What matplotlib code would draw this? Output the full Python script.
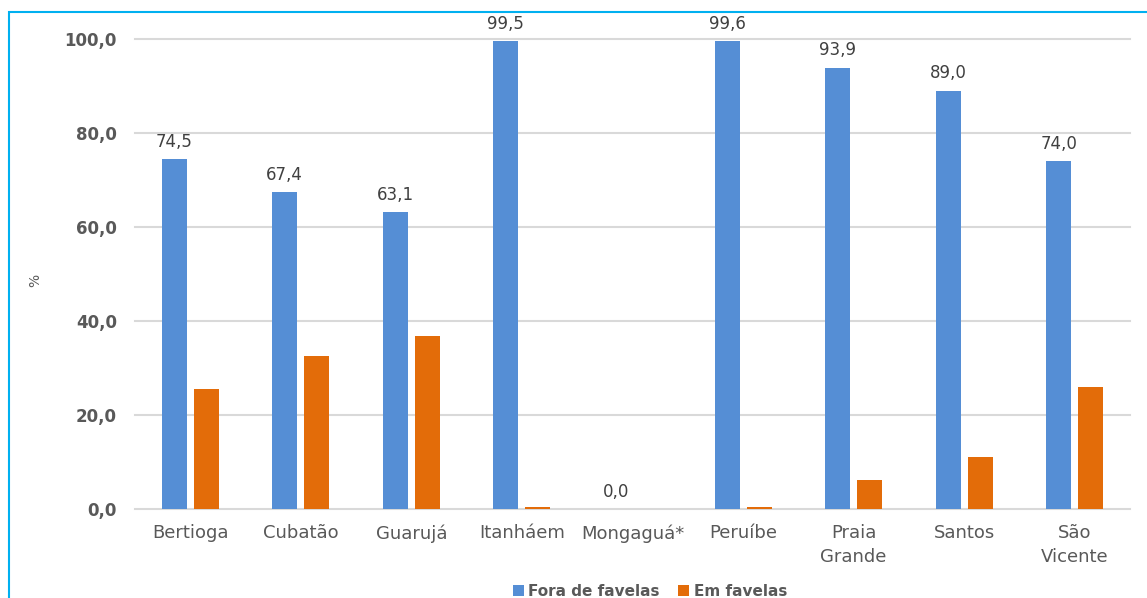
import matplotlib.pyplot as plt
import numpy as np
from matplotlib.patches import Rectangle

# dados
municipios = ["Bertioga", "Cubatão", "Guarujá", "Itanháem", "Mongaguá*",
              "Peruíbe", "Praia\nGrande", "Santos", "São\nVicente"]
fora_favelas = [74.5, 67.4, 63.1, 99.5, 0.0, 99.6, 93.9, 89.0, 74.0]
em_favelas = [25.5, 32.6, 36.9, 0.5, 0.0, 0.4, 6.1, 11.0, 26.0]

cor_fora = "#558ED5"
cor_em = "#E36C09"
cinza = "#595959"

plt.rcParams["font.family"] = ["DejaVu Sans"]

fig = plt.figure(figsize=(11.47, 5.98), dpi=100)
ax = fig.add_axes([0.1177, 0.1488, 0.8675, 0.786])

x = np.arange(len(municipios))
largura = 0.226
desloc = 0.145

b1 = ax.bar(x - desloc, fora_favelas, largura, color=cor_fora,
            label="Fora de favelas", zorder=3)
ax.bar(x + desloc, em_favelas, largura, color=cor_em,
       label="Em favelas", zorder=3)

for rect, v in zip(b1, fora_favelas):
    ax.annotate(f"{v:.1f}".replace(".", ","),
                (rect.get_x() + rect.get_width() / 2, v),
                xytext=(0, 6), textcoords="offset points",
                ha="center", va="bottom", fontsize=12, color="#404040",
                annotation_clip=False)

ax.set_xlim(-0.5, len(municipios) - 0.5)
ax.set_ylim(0, 100)
ax.set_yticks(np.arange(0, 101, 20))
ax.set_yticklabels([f"{t:.1f}".replace(".", ",") for t in np.arange(0, 101, 20)],
                   fontsize=12, fontweight="bold", color=cinza)
ax.set_xticks(x)
ax.set_xticklabels(municipios, fontsize=13, color=cinza, linespacing=1.4)
ax.tick_params(axis="both", length=0)
ax.tick_params(axis="y", pad=13)
ax.tick_params(axis="x", pad=11)

ax.grid(axis="y", color="#D9D9D9", linewidth=1.5, zorder=0)
for gl in ax.get_ygridlines():
    gl.set_clip_on(False)
for s in ax.spines.values():
    s.set_visible(False)

fig.text(35 / 1147, 1 - 280 / 598, "%", rotation=90, fontsize=10,
         color=cinza, ha="center", va="center")

ax.legend(loc="center", bbox_to_anchor=(650 / 1147, 7 / 598),
          bbox_transform=fig.transFigure, ncol=2, frameon=False,
          handlelength=0.7, handleheight=0.7, handletextpad=0.3,
          columnspacing=1.2, prop={"weight": "bold", "size": 11},
          labelcolor=cinza)

fig.patches.append(Rectangle((9 / 1147, -0.5), 1.5, 0.5 + 1 - 12 / 598,
                             transform=fig.transFigure, fill=False,
                             edgecolor="#00B0F0", linewidth=1.5))

fig.savefig("out.png", dpi=100)
